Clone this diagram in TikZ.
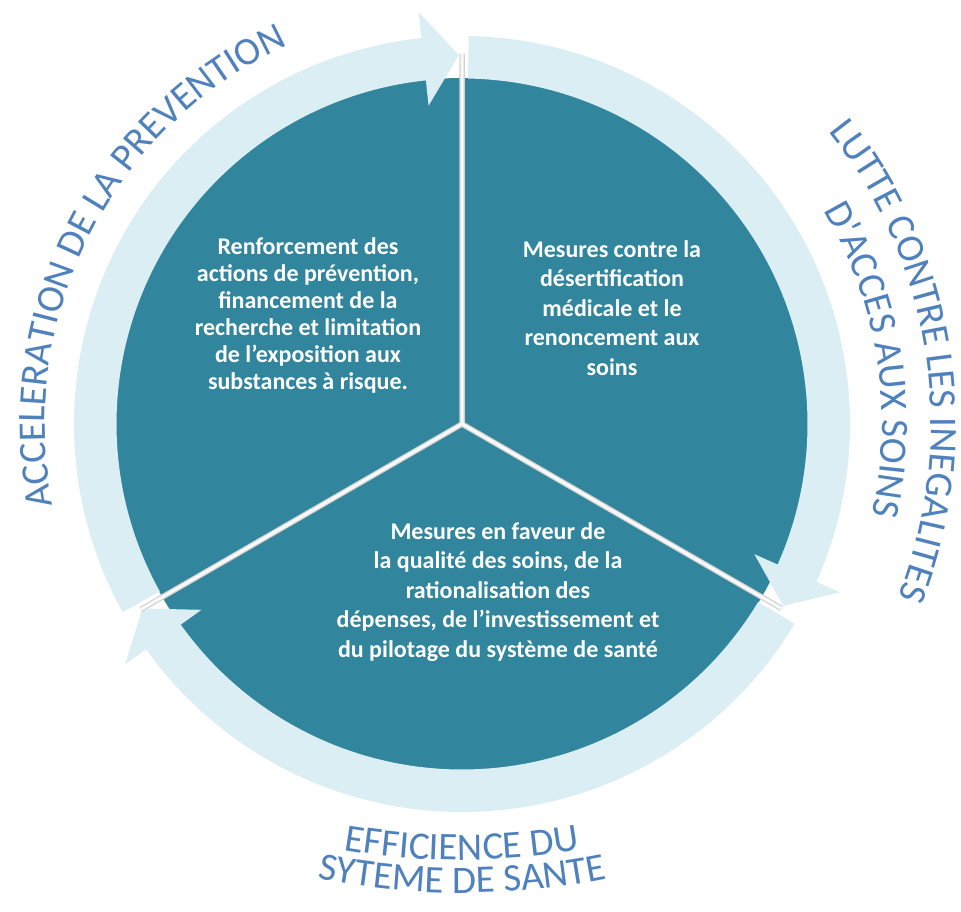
\documentclass[tikz,border=0pt]{standalone}
\usepackage{fontspec}
\setmainfont{Carlito}
\newfontfamily\labelfont{Carlito}
\usetikzlibrary{calc,decorations.text}
\definecolor{diskcol}{HTML}{31859C}
\definecolor{ringcol}{HTML}{DAEEF3}
\definecolor{lblcol}{HTML}{4F81BD}
\newcommand\curv{\labelfont\fontsize{39}{39}\selectfont\color{lblcol}}
\newcommand\ringarrow[3]{%
  \fill[ringcol] ($(C)+(#1:388)$) arc[start angle=#1, end angle=#2, radius=388]
    -- ($(C)+(#2:414)$) -- ($(C)+(#3:369)$) -- ($(C)+(#2:320)$)
    -- ($(C)+(#2:345.5)$) arc[start angle=#2, end angle=#1, radius=345.5] -- cycle;}
\tikzset{
  divshade/.style={line width=5.5pt, draw=gray!35},
  divlight/.style={line width=3pt, draw=white!95!gray},
  sectortext/.style={text=white, align=center, font=\bfseries\fontsize{24}{29.5}\selectfont},
  curvelabel/.style={decorate, decoration={text along path, text align=center, text={#1}}}
}
\begin{document}
\begin{tikzpicture}[x=1pt,y=1pt]
\useasboundingbox (0,0) rectangle (961,911);
\coordinate (C) at (462,487);
\coordinate (B) at (462,751);
% disk
\fill[diskcol] (C) circle[radius=346];
% ring arrows
\ringarrow{209}{96}{90.5}
\ringarrow{89}{-24}{-29.5}
\ringarrow{-31}{-144.5}{-150}
% dividers
\coordinate (d1) at ($(C)+(90:370)$);
\coordinate (d2) at ($(C)+(210:371)$);
\coordinate (d3) at ($(C)+(330:369)$);
\draw[divshade] (d1) -- (C) -- (d2) (C) -- (d3);
\draw[divlight] (d1) -- (C) -- (d2) (C) -- (d3);
% sector texts
\node[sectortext, font=\bfseries\fontsize{24}{27}\selectfont] (t1) at (308,596) {Renforcement des\\actions de prévention,\\financement de la\\recherche et limitation\\de l’exposition aux\\substances à risque.};
\node[sectortext] (t2) at (612,603) {Mesures contre la\\désertification\\médicale et le\\renoncement aux\\soins};
\node[sectortext] (t3) at (498,319) {Mesures en faveur de\\la qualité des soins, de la\\rationalisation des\\dépenses, de l’investissement et\\du pilotage du système de santé};
% curved labels
\path[curvelabel={|\curv|ACCELERATION DE LA PREVENTION}] ($(C)+(203:417)$) arc[start angle=203, end angle=103, radius=417];
\path[curvelabel={|\curv|LUTTE CONTRE LES INEGALITES}] ($(C)+(46:469)$) arc[start angle=46, end angle=-29, radius=469];
\path[curvelabel={|\curv|D'ACCES AUX SOINS}] ($(C)+(40:420)$) arc[start angle=40, end angle=-22, radius=420];
\path[curvelabel={|\curv|EFFICIENCE DU}] ($(B)+(250:700)$) arc[start angle=250, end angle=290, radius=700];
\path[curvelabel={|\curv|SYTEME DE SANTE}] ($(B)+(250:733)$) arc[start angle=250, end angle=290, radius=733];
\end{tikzpicture}
\end{document}
